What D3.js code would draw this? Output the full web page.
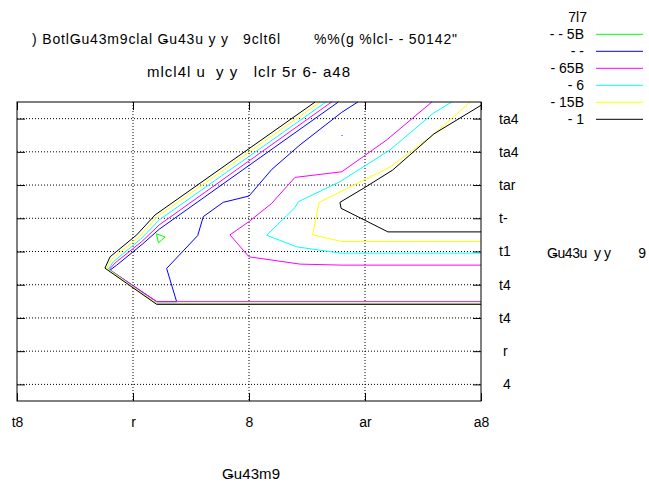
<!DOCTYPE html>
<html>
<head>
<meta charset="utf-8">
<script src="https://cdn.jsdelivr.net/npm/d3@7"></script>
<style>
  body { margin: 0; background: #fff; overflow: hidden; }
  svg text { font-family: "Liberation Sans", Arial, sans-serif; font-size: 14px; white-space: pre; fill: #000; }
</style>
</head>
<body>
<div id="chart"></div>
<script>
// tick labels (as printed in the reference)
const xTicks = [0, 5, 10, 15, 20];
const xTickLabels = ["t8", "r", "8", "ar", "a8"];
const yTicks = [0.5, 1.5, 2.5, 3.5, 4.5, 5.5, 6.5, 7.5, 8.5];
const yTickLabels = [" 4", " r", "t4", "t4", "t1", "t-", "tar", "ta4", "ta4"];

const title1 = ") BotlǤu43m9clal Ǥu43u y y   9clt6l       %%(g %lcl- - 50142\"";
const title2 = "mlcl4l u  y y   lclr 5r 6- a48";
const sideLabel = "Ǥu43u  y y        9";
const xLabel = "Ǥu43m9";
const legendTitle = "7l7";

// contour levels
const levelLabels = ["- - 5B", "- -", "- 65B", "- 6", "- 15B", "- 1"];
const levelColors = ["#00ff00", "#0000ff", "#ff00ff", "#00ffff", "#ffff00", "#000000"];

// contour polylines, per level, in data units
const green = [
  [[6.01, 5.03], [6.38, 4.94], [6.10, 4.76], [6.01, 5.03]]
];
const blue = [
  [[13.85, 9], [6.13, 5.17], [5.42, 4.73], [4.30, 4.09], [4.01, 3.94], [6.02, 2.99], [6.88, 2.99],
   [6.45, 3.99], [7.79, 4.98], [8.03, 5.55], [8.89, 5.98], [10.0, 6.17], [10.98, 6.97],
   [12.2, 7.71], [14.0, 8.69], [14.69, 9]]
];
const magenta = [
  [[13.56, 9], [6.13, 5.30], [5.38, 4.80], [4.22, 4.15], [3.98, 3.96], [6.02, 2.99], [20, 2.99]],
  [[17.88, 9], [15.94, 7.86], [14.0, 6.90], [11.98, 6.73], [10.98, 5.95], [10.0, 5.40],
   [9.18, 5.0], [10.0, 4.34], [12.2, 4.12], [14.0, 4.09], [20, 4.09]],
  [[13.98, 7.99], [14.04, 7.99]]
];
const cyan = [
  [[13.32, 9], [6.13, 5.45], [5.33, 4.87], [4.15, 4.19], [3.94, 3.97], [6.02, 2.93], [20, 2.93]],
  [[18.74, 9], [17.94, 8.66], [16.08, 7.56], [13.92, 6.60], [12.13, 6.0], [11.98, 5.82],
   [10.76, 4.99], [12.06, 4.64], [13.97, 4.45], [20, 4.45]]
];
const yellow = [
  [[13.06, 9], [6.05, 5.55], [5.27, 4.95], [4.08, 4.27], [3.87, 3.99], [6.04, 2.92], [20, 2.92]],
  [[19.53, 9], [17.94, 8.01], [16.08, 7.04], [14.0, 6.32], [13.02, 5.98], [12.75, 5.0],
   [14.0, 4.80], [20, 4.80]]
];
const black = [
  [[12.85, 9], [5.95, 5.6], [5.16, 5.0], [4.01, 4.34], [3.79, 4.0], [6.02, 2.91], [20, 2.91]],
  [[20, 8.90], [17.97, 8.04], [16.19, 6.95], [15.0, 6.43], [13.92, 5.98], [13.97, 5.80],
   [15.99, 5.09], [20, 5.09]]
];
const contours = [green, blue, magenta, cyan, yellow, black];

const W = 649, H = 483;
const plot = { left: 17, right: 481, top: 102, bottom: 401 };

const svg = d3.select("#chart").append("svg")
  .attr("width", W)
  .attr("height", H);

const x = d3.scaleLinear().domain([0, 20]).range([plot.left, plot.right]);
const y = d3.scaleLinear().domain([0, 9]).range([plot.bottom, plot.top]);

// dotted grid
svg.append("g").selectAll("line")
  .data(xTicks.slice(1, -1))
  .join("line")
  .attr("x1", d => x(d)).attr("x2", d => x(d))
  .attr("y1", plot.top).attr("y2", plot.bottom)
  .attr("stroke", "#000").attr("stroke-width", 1)
  .attr("stroke-dasharray", "1,2");
svg.append("g").selectAll("line")
  .data(yTicks)
  .join("line")
  .attr("x1", plot.left).attr("x2", plot.right)
  .attr("y1", d => y(d)).attr("y2", d => y(d))
  .attr("stroke", "#000").attr("stroke-width", 1)
  .attr("stroke-dasharray", "1,2");

// inward ticks on all four sides
const tickLen = 8;
const bottomAxis = d3.axisBottom(x).tickValues(xTicks).tickSize(-tickLen).tickFormat((d, i) => xTickLabels[i]).tickPadding(tickLen + 8);
const topAxis = d3.axisTop(x).tickValues(xTicks).tickSize(-tickLen).tickFormat("");
const leftAxis = d3.axisLeft(y).tickValues(yTicks).tickSize(-tickLen).tickFormat("");
const rightAxis = d3.axisRight(y).tickValues(yTicks).tickSize(-tickLen).tickFormat((d, i) => yTickLabels[i]).tickPadding(tickLen + 10);

function styleAxis(g) {
  g.select(".domain").remove();
  g.selectAll("line").attr("stroke", "#000");
  g.selectAll("text").attr("font-size", null).attr("font-family", null);
}
svg.append("g").attr("transform", `translate(0,${plot.bottom})`).call(bottomAxis).call(styleAxis);
svg.append("g").attr("transform", `translate(0,${plot.top})`).call(topAxis).call(styleAxis);
svg.append("g").attr("transform", `translate(${plot.left},0)`).call(leftAxis).call(styleAxis);
const ry = svg.append("g").attr("transform", `translate(${plot.right},0)`).call(rightAxis).call(styleAxis);
ry.selectAll("text").attr("text-anchor", "start");

// contour lines
const line = d3.line().x(d => x(d[0])).y(d => y(d[1]));
const cg = svg.append("g");
contours.forEach((lev, i) => {
  cg.selectAll(null)
    .data(lev)
    .join("path")
    .attr("d", line)
    .attr("fill", "none")
    .attr("stroke", levelColors[i])
    .attr("stroke-width", 1);
});

// frame
svg.append("rect")
  .attr("x", plot.left).attr("y", plot.top)
  .attr("width", plot.right - plot.left).attr("height", plot.bottom - plot.top)
  .attr("fill", "none").attr("stroke", "#000").attr("stroke-width", 1);

// titles, stretched to the extent they take in the original
function label(str, x0, yPos, len, size) {
  return svg.append("text")
    .attr("x", x0).attr("y", yPos)
    .attr("textLength", len).attr("lengthAdjust", "spacing")
    .style("font-size", size + "px")
    .text(str);
}
label(title1, 32, 44, 425, 14);
label(title2, 147, 77, 203, 15);
label(sideLabel, 547, 258, 99, 14);
label(xLabel, 222, 479, 58, 15);

// legend
const leg = svg.append("g");
leg.append("text").attr("x", 587).attr("y", 22).attr("text-anchor", "end").text(legendTitle);
const rows = leg.selectAll("g.row")
  .data(levelLabels)
  .join("g")
  .attr("class", "row")
  .attr("transform", (d, i) => `translate(0,${34.3 + i * 17})`);
rows.append("text").attr("x", 584).attr("y", 5).attr("text-anchor", "end").text(d => d);
rows.append("line")
  .attr("x1", 596).attr("x2", 643)
  .attr("y1", 0).attr("y2", 0)
  .attr("stroke", (d, i) => levelColors[i])
  .attr("stroke-width", 1);
</script>
</body>
</html>
